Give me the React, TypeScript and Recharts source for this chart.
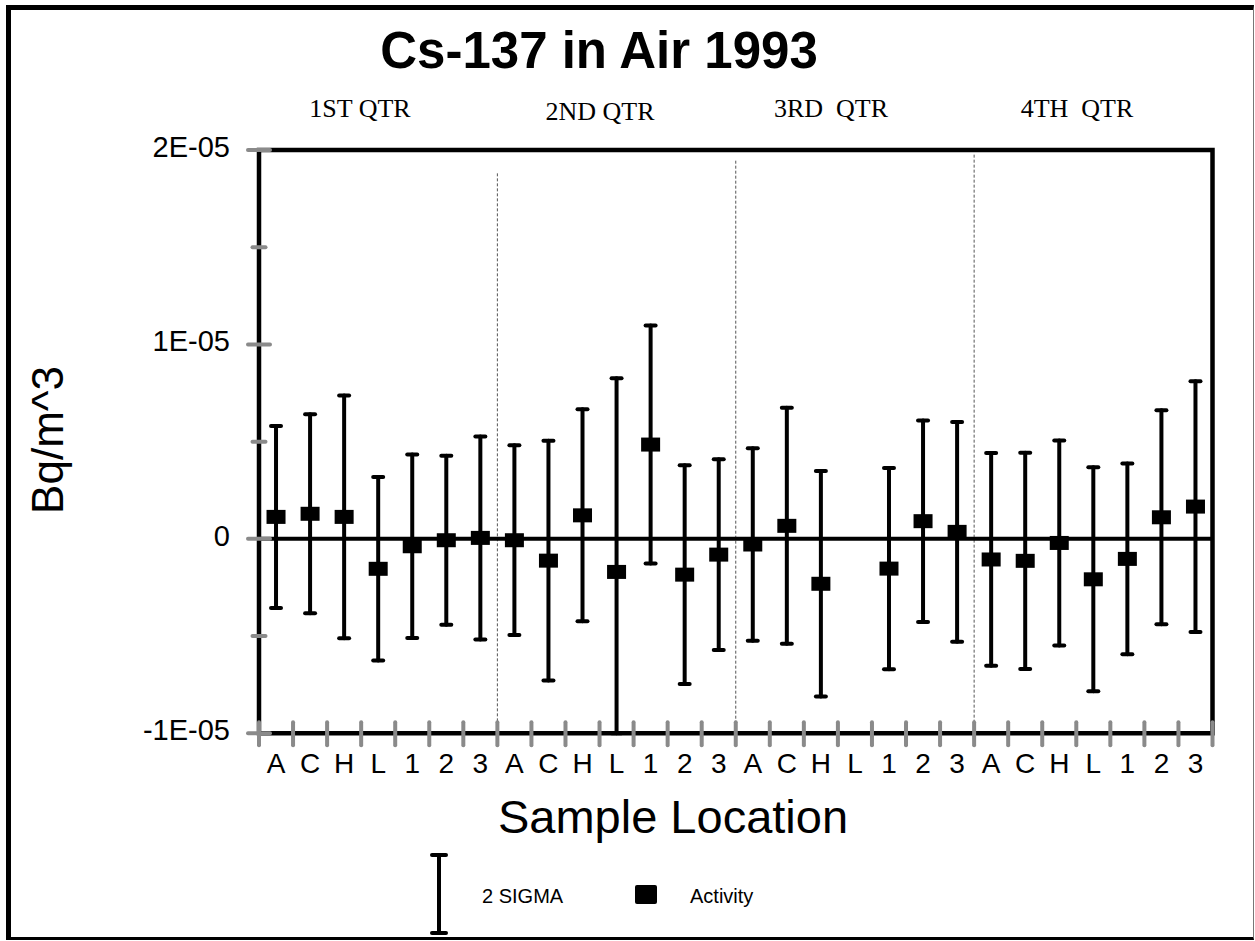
import React from 'react';
import { ScatterChart, Scatter, XAxis, YAxis, ErrorBar, ReferenceLine, ReferenceArea } from 'recharts';

// Sample locations (4 quarters x 7 locations)
const locations = ['A', 'C', 'H', 'L', '1', '2', '3'];
const quarters = ['1ST QTR', '2ND QTR', '3RD  QTR', '4TH  QTR'];
const categories = [...locations, ...locations, ...locations, ...locations];

// Activity (Bq/m^3); null = no sample
const activity = [
  1.13e-6, 1.29e-6, 1.13e-6, -1.54e-6, -0.38e-6, -0.07e-6, 0.05e-6,
  -0.07e-6, -1.12e-6, 1.21e-6, -1.70e-6, 4.85e-6, -1.84e-6, -0.81e-6,
  -0.29e-6, 0.67e-6, -2.31e-6, null, -1.53e-6, 0.91e-6, 0.36e-6,
  -1.06e-6, -1.13e-6, -0.21e-6, -2.08e-6, -1.03e-6, 1.11e-6, 1.66e-6,
];

// 2 sigma uncertainty (Bq/m^3)
const sigma2 = [
  4.68e-6, 5.12e-6, 6.24e-6, 4.72e-6, 4.72e-6, 4.35e-6, 5.22e-6,
  4.88e-6, 6.16e-6, 5.45e-6, 9.96e-6, 6.12e-6, 5.63e-6, 4.9e-6,
  4.95e-6, 6.07e-6, 5.8e-6, null, 5.18e-6, 5.18e-6, 5.65e-6,
  5.47e-6, 5.56e-6, 5.27e-6, 5.76e-6, 4.9e-6, 5.5e-6, 6.45e-6,
];

const yMin = -1e-5;
const yMax = 2e-5;
const yTicks = [-1e-5, -5e-6, 0, 5e-6, 1e-5, 1.5e-5, 2e-5];
const boundaryTicks = Array.from({ length: categories.length + 1 }, (_, i) => i);
const quarterBounds = [7, 14, 21];
const quarterLineTops = [1.88e-5, 1.945e-5, 1.976e-5];

// error bars are cut at the bottom of the value axis (as in the original chart)
const data = categories
  .map((c, i) => {
    const y = activity[i];
    const e = sigma2[i];
    if (y === null || e === null) return null;
    return { x: i + 0.5, cat: c, y, err: [Math.min(e, y - yMin), Math.min(e, yMax - y)] };
  })
  .filter((d) => d !== null);

const SANS = '"Liberation Sans", Arial, Helvetica, sans-serif';
const SERIF = '"Liberation Serif", "Times New Roman", serif';
const GRAY = '#8a8a8a';

const isMajor = (v: number) => Math.abs(Math.round(v / 5e-6)) % 2 === 0;
const fmt = (v: number) => {
  if (Math.abs(v) < 1e-12) return '0';
  const [m, e] = v.toExponential(0).split('e');
  const n = parseInt(e, 10);
  const sign = n < 0 ? '-' : '+';
  const abs = Math.abs(n);
  return `${m}E${sign}${abs < 10 ? '0' + abs : abs}`;
};

const YTick = (props: any) => {
  const { x, y, payload } = props;
  const v = payload.value as number;
  const major = isMajor(v);
  const half = major ? 11 : 6.5;
  return (
    <g>
      <line x1={x - half} x2={x + half} y1={y} y2={y} stroke={GRAY} strokeWidth={4} strokeLinecap="round" />
      {major && (
        <text x={x - 29} y={y + 7} textAnchor="end" fontSize={29} fontFamily={SANS} fill="#000">
          {fmt(v)}
        </text>
      )}
    </g>
  );
};

const XTick = (props: any) => {
  const { x, y, payload, width } = props;
  const idx = payload.value as number;
  const half = Number(width) / categories.length / 2;
  return (
    <g>
      <line x1={x} x2={x} y1={y - 11} y2={y + 12} stroke={GRAY} strokeWidth={4} strokeLinecap="round" />
      {idx < categories.length && (
        <text x={x + half} y={y + 40} textAnchor="middle" fontSize={28} fontFamily={SANS} fill="#000">
          {categories[idx]}
        </text>
      )}
    </g>
  );
};

const Marker = (props: any) => {
  const { cx, cy } = props;
  return <rect x={cx - 9.5} y={cy - 7} width={19} height={14} fill="#000" />;
};

export default function App() {
  return (
    <div style={{ position: 'absolute', left: 0, top: 0, width: 1255, height: 941, background: '#fff', overflow: 'hidden' }}>
      <div
        style={{
          position: 'absolute',
          left: 6,
          top: 5,
          width: 1248,
          height: 935,
          boxSizing: 'border-box',
          borderLeft: '5px solid #000',
          borderTop: '5px solid #000',
          borderRight: '1px solid #777',
          borderBottom: '3px solid #000',
        }}
      />
      <div style={{ position: 'absolute', left: 0, top: 0 }}>
        <ScatterChart width={1255} height={941} margin={{ top: 150, right: 42.5, bottom: 177.7, left: 199 }}>
          <ReferenceArea
            x1={0}
            x2={28}
            y1={yMin}
            y2={yMax}
            fill="none"
            fillOpacity={0}
            stroke="#000"
            strokeWidth={4.5}
          />
          {quarterBounds.map((b, i) => (
            <ReferenceLine
              key={b}
              segment={[{ x: b, y: quarterLineTops[i] }, { x: b, y: yMin }]}
              stroke="#555"
              strokeWidth={1}
              strokeDasharray="3 2"
            />
          ))}
          <ReferenceLine y={0} stroke="#000" strokeWidth={4} />
          <XAxis
            type="number"
            dataKey="x"
            domain={[0, 28]}
            ticks={boundaryTicks}
            interval={0}
            axisLine={false}
            tickLine={false}
            tickSize={0}
            tickMargin={0}
            height={30}
            tick={<XTick />}
          />
          <YAxis
            type="number"
            dataKey="y"
            domain={[yMin, yMax]}
            ticks={yTicks}
            interval={0}
            allowDataOverflow
            axisLine={false}
            tickLine={false}
            tickSize={0}
            tickMargin={0}
            width={60}
            tick={<YTick />}
          />
          <Scatter data={data} isAnimationActive={false} shape={<Marker />} fill="#000">
            <ErrorBar
              dataKey="err"
              direction="y"
              width={5}
              stroke="#000"
              strokeWidth={4}
              strokeLinecap="round"
              isAnimationActive={false}
            />
          </Scatter>
        </ScatterChart>
      </div>
      <svg width={1255} height={941} style={{ position: 'absolute', left: 0, top: 0, pointerEvents: 'none' }}>
        <text x={599} y={68} textAnchor="middle" fontSize={51} fontWeight="bold" fontFamily={SANS} fill="#000">
          Cs-137 in Air 1993
        </text>
        {quarters.map((q, i) => (
          <text
            key={q}
            x={[360, 600, 831, 1077][i]}
            y={[117, 120, 117, 117][i]}
            textAnchor="middle"
            fontSize={26}
            fontFamily={SERIF}
            fill="#000"
            style={{ whiteSpace: 'pre' }}
          >
            {q}
          </text>
        ))}
        <text x={673} y={833} textAnchor="middle" fontSize={47} fontFamily={SANS} fill="#000">
          Sample Location
        </text>
        <text
          transform="translate(63,440) rotate(-90)"
          textAnchor="middle"
          fontSize={44}
          fontFamily={SANS}
          fill="#000"
        >
          Bq/m^3
        </text>
        {/* legend */}
        <g>
          <line x1={439} x2={439} y1={855} y2={933} stroke="#000" strokeWidth={4} />
          <line x1={432} x2={446} y1={855} y2={855} stroke="#000" strokeWidth={4} strokeLinecap="round" />
          <line x1={432} x2={446} y1={933} y2={933} stroke="#000" strokeWidth={4} strokeLinecap="round" />
          <text x={482} y={903} fontSize={20} fontFamily={SANS} fill="#000">
            2 SIGMA
          </text>
          <rect x={635} y={885} width={22} height={19} rx={2} fill="#000" />
          <text x={690} y={903} fontSize={20} fontFamily={SANS} fill="#000">
            Activity
          </text>
        </g>
      </svg>
    </div>
  );
}
